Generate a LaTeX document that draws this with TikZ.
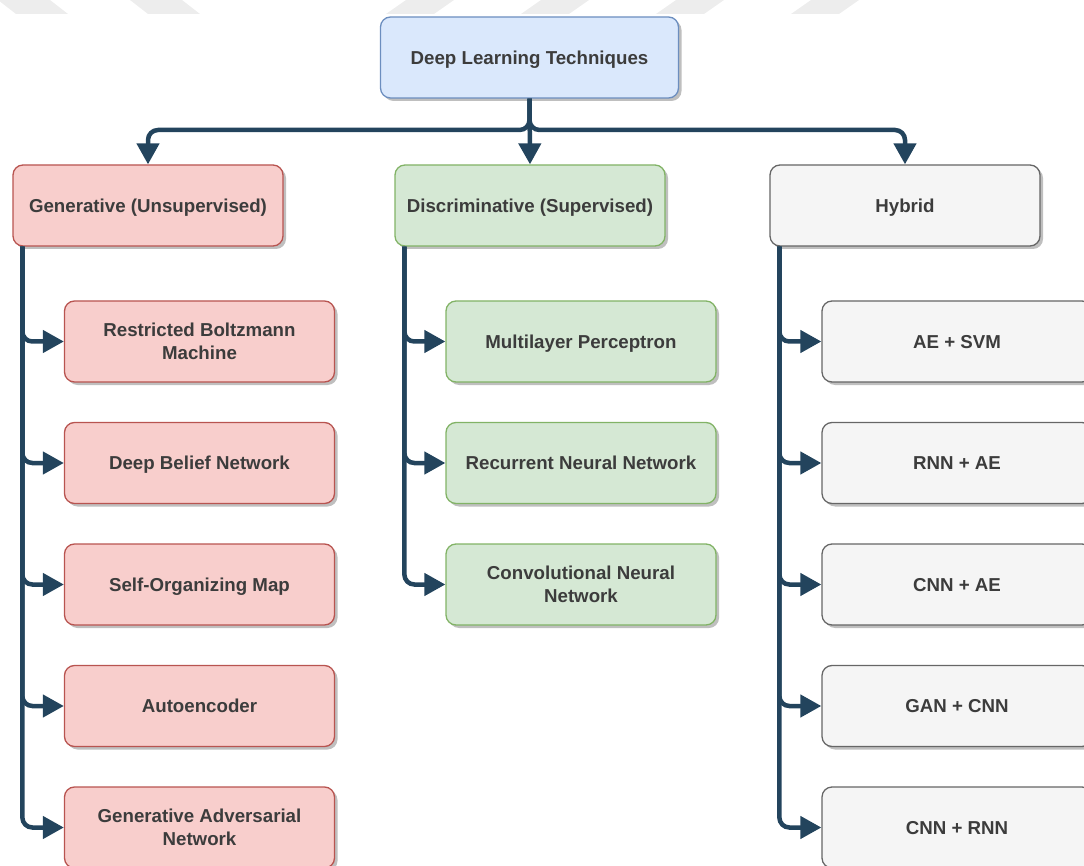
\documentclass[tikz,border=0pt]{standalone}
\usepackage{fontspec}
\setmainfont{Liberation Sans}
\usetikzlibrary{arrows.meta,shadows}

\definecolor{rootfill}{HTML}{DAE8FC}
\definecolor{rootline}{HTML}{6C8EBF}
\definecolor{genfill}{HTML}{F8CECC}
\definecolor{genline}{HTML}{B85450}
\definecolor{discfill}{HTML}{D5E8D4}
\definecolor{discline}{HTML}{82B366}
\definecolor{hybfill}{HTML}{F5F5F5}
\definecolor{hybline}{HTML}{666666}
\definecolor{linkcol}{HTML}{23445D}
\definecolor{labelcol}{HTML}{3C3C3C}
\definecolor{stripecol}{HTML}{EDEDED}

\begin{document}
\begin{tikzpicture}[x=1pt, y=-1pt,
  box/.style={rounded corners=10pt, line width=1.3pt,
    minimum width=270pt, minimum height=81pt, inner sep=0pt,
    align=center, text=labelcol,
    text height=13.6pt, text depth=0pt,
    font=\fontsize{18.7}{22.7}\selectfont\bfseries,
    drop shadow={shadow xshift=3pt, shadow yshift=-3pt, opacity=0.25, fill=black}},
  twolines/.style={text height=36.3pt, text depth=0pt},
  rootbox/.style={box, fill=rootfill, draw=rootline, minimum width=298pt},
  genbox/.style={box, fill=genfill, draw=genline},
  discbox/.style={box, fill=discfill, draw=discline},
  hybbox/.style={box, fill=hybfill, draw=hybline},
  link/.style={draw=linkcol, line width=4.5pt, rounded corners=10pt,
    -{Triangle[length=21pt, width=22pt]}},
  stripe/.style={fill=stripecol, draw=none}
]
\useasboundingbox (0,0) rectangle (1084,866);
\clip (0,0) rectangle (1084,866);

% faint diagonal stripes along the top edge
\foreach \x in {-2,130} {
  \path[stripe] (\x,0) -- (\x+52,0) -- (\x+70,14) -- (\x+18,14) -- cycle;
}
\foreach \x in {406,541,676,811} {
  \path[stripe] (\x,0) -- (\x+48,0) -- (\x+28,14) -- (\x-20,14) -- cycle;
}

% root and the three families
\node[rootbox] (root) at (529.5,57.5) {Deep Learning Techniques};
\node[genbox]  (gen)  at (148,205.5) {Generative (Unsupervised)};
\node[discbox] (disc) at (530,205.5) {Discriminative (Supervised)};
\node[hybbox]  (hyb)  at (905,205.5) {Hybrid};

% generative methods
\node[genbox, twolines] (g1) at (199.5,341.5) {Restricted Boltzmann\\Machine};
\node[genbox] (g2) at (199.5,463)   {Deep Belief Network};
\node[genbox] (g3) at (199.5,584.5) {Self-Organizing Map};
\node[genbox] (g4) at (199.5,706)   {Autoencoder};
\node[genbox, twolines] (g5) at (199.5,827.5) {Generative Adversarial\\Network};

% discriminative methods
\node[discbox] (d1) at (581,341.5) {Multilayer Perceptron};
\node[discbox] (d2) at (581,463)   {Recurrent Neural Network};
\node[discbox, twolines] (d3) at (581,584.5) {Convolutional Neural\\Network};

% hybrid methods
\node[hybbox] (h1) at (957,341.5) {AE + SVM};
\node[hybbox] (h2) at (957,463)   {RNN + AE};
\node[hybbox] (h3) at (957,584.5) {CNN + AE};
\node[hybbox] (h4) at (957,706)   {GAN + CNN};
\node[hybbox] (h5) at (957,827.5) {CNN + RNN};

% bus from the root to the families
\coordinate (bus) at (root.south |- 0,130);
\draw[link] (root.south) -- (bus) -| (gen.north);
\draw[link] (root.south) -- (disc.north);
\draw[link] (root.south) -- (bus) -| (hyb.north);

% trunks from each family to its methods
\foreach \c in {g1,g2,g3,g4,g5} {
  \draw[link] ([xshift=10pt]gen.south west) |- (\c.west);
}
\foreach \c in {d1,d2,d3} {
  \draw[link] ([xshift=10pt]disc.south west) |- (\c.west);
}
\foreach \c in {h1,h2,h3,h4,h5} {
  \draw[link] ([xshift=10pt]hyb.south west) |- (\c.west);
}
\end{tikzpicture}
\end{document}
